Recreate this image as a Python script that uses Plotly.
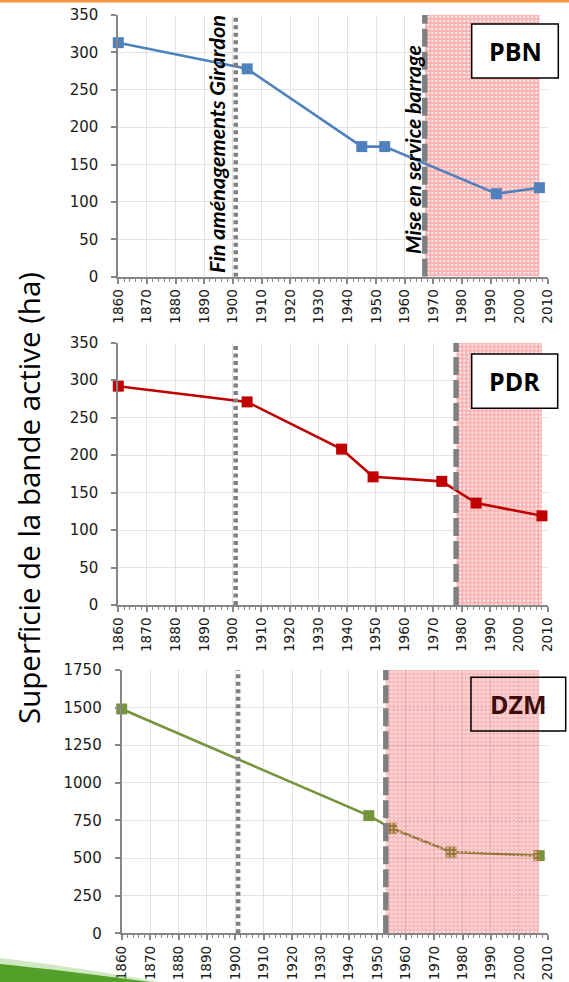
import plotly.graph_objects as go

W, H = 569, 982

# ---------------- data ----------------
years_pbn = [1860, 1905, 1945, 1953, 1992, 2007]
area_pbn = [313, 278, 174, 174, 111, 119]

years_pdr = [1860, 1905, 1938, 1949, 1973, 1985, 2008]
area_pdr = [292, 271, 208, 171, 165, 136, 119]

years_dzm = [1860, 1947, 1955, 1976, 2007]
area_dzm = [1491, 782, 698, 540, 516]

site_names = ["PBN", "PDR", "DZM"]
girardon_end = 1901
barrage_years = [1967, 1978, 1953]
y_max = [350, 350, 1750]
y_dtick = [50, 50, 250]
x_ticks = list(range(1860, 2011, 10))

colors = ["#4F81BD", "#C00000", "#77933C"]


def px_x(x):
    return x / W


def px_y(y):
    return 1 - y / H


# panel geometry (pixels)
x_dom_px = [(118.3, 548.0), (118.3, 547.7), (121.7, 547.7)]
y_dom_px = [(276.7, 15.0), (605.0, 342.7), (933.3, 670.0)]
box_px = [(471.7, 24, 558.3, 78), (471.7, 354, 557.7, 408.3), (471.0, 677.3, 565.7, 731)]

series = [(years_pbn, area_pbn), (years_pdr, area_pdr), (years_dzm, area_dzm)]

fig = go.Figure()
shapes = []
annotations = []

axis_col = "#868686"
grid_col = "#E3E3E3"
font_xticks = dict(family="DejaVu Sans", size=13.6, color="#1a1a1a")
font_yticks = dict(family="DejaVu Sans", size=15, color="#1a1a1a")

for i in range(3):
    xs, ys = series[i]
    xa = "x" if i == 0 else f"x{i+1}"
    ya = "y" if i == 0 else f"y{i+1}"
    start = barrage_years[i]
    end = xs[-1]
    ymax = y_max[i]
    if i == 2:
        shade = dict(shape=".", bgcolor="rgba(238,30,30,0.30)", fgcolor="white",
                     fgopacity=0.6, size=4, solidity=0.25)
    else:
        shade = dict(shape=".", bgcolor="#F9B2B2", fgcolor="white",
                     fgopacity=0.8, size=4, solidity=0.25)
    shade_trace = go.Scatter(
        x=[start, end, end, start, start], y=[0, 0, ymax, ymax, 0],
        fill="toself", mode="none", fillpattern=shade, fillcolor="rgba(0,0,0,0)",
        xaxis=xa, yaxis=ya, showlegend=False, hoverinfo="skip")
    line_trace = go.Scatter(
        x=xs, y=ys, mode="lines+markers", cliponaxis=False,
        line=dict(color=colors[i], width=2.6),
        marker=dict(symbol="square", size=11, color=colors[i]),
        xaxis=xa, yaxis=ya, showlegend=False)
    if i == 2:
        fig.add_trace(line_trace)
        fig.add_trace(shade_trace)
    else:
        fig.add_trace(shade_trace)
        fig.add_trace(line_trace)

    # vertical event lines
    shapes.append(dict(type="line", xref=xa, yref=ya, x0=girardon_end, x1=girardon_end,
                       y0=0, y1=ymax, layer="above",
                       line=dict(color="#808080", width=4.5, dash="4px,3.5px")))
    shapes.append(dict(type="line", xref=xa, yref=ya, x0=start, x1=start,
                       y0=0, y1=ymax, layer="above",
                       line=dict(color="#808080", width=5.5, dash="18px,5px")))

    # site label box
    bx0, by0, bx1, by1 = box_px[i]
    if i == 2:
        shapes.append(dict(type="rect", xref="paper", yref="paper",
                           x0=px_x(bx0), x1=px_x(bx1), y0=px_y(by1), y1=px_y(by0),
                           fillcolor="white", line=dict(width=0), layer="between"))
        shapes.append(dict(type="rect", xref="paper", yref="paper",
                           x0=px_x(bx0), x1=px_x(bx1), y0=px_y(by1), y1=px_y(by0),
                           fillcolor="rgba(0,0,0,0)", line=dict(color="black", width=1.5),
                           layer="above"))
    else:
        shapes.append(dict(type="rect", xref="paper", yref="paper",
                           x0=px_x(bx0), x1=px_x(bx1), y0=px_y(by1), y1=px_y(by0),
                           fillcolor="white", line=dict(color="black", width=1.5),
                           layer="above"))
    annotations.append(dict(text=site_names[i], xref="paper", yref="paper",
                            x=px_x((bx0 + bx1) / 2), y=px_y((by0 + by1) / 2),
                            xanchor="center", yanchor="middle", showarrow=False,
                            font=dict(family="Open Sans", size=25,
                                      color="#3a0c0c" if i == 2 else "black",
                                      weight="bold")))

    xd = x_dom_px[i]
    yd = y_dom_px[i]
    xkey = "xaxis" if i == 0 else f"xaxis{i+1}"
    ykey = "yaxis" if i == 0 else f"yaxis{i+1}"
    fig.update_layout({
        xkey: dict(domain=[px_x(xd[0]), px_x(xd[1])], anchor=ya, automargin=False,
                   range=[1860, 2010], tickvals=x_ticks, ticktext=[str(t) for t in x_ticks],
                   tickangle=-90, ticks="outside", ticklen=5, tickwidth=1.5,
                   tickcolor=axis_col, showline=True, linecolor=axis_col, linewidth=2,
                   showgrid=True, gridcolor=grid_col, gridwidth=1, zeroline=False,
                   tickfont=font_xticks, ticklabelstandoff=0,
                   minor=dict(dtick=2, tick0=1860, ticks="outside", ticklen=3,
                              tickcolor=axis_col, tickwidth=1, showgrid=False)),
        ykey: dict(domain=[px_y(yd[0]), px_y(yd[1])], anchor=xa, automargin=False,
                   range=[0, ymax], dtick=y_dtick[i], ticks="outside", ticklen=5,
                   tickwidth=1.5, tickcolor=axis_col, showline=True, linecolor=axis_col,
                   linewidth=2, showgrid=True, gridcolor=grid_col, gridwidth=1,
                   zeroline=False, tickfont=font_yticks, ticklabelstandoff=10),
    })

# rotated event labels (top panel)
annotations.append(dict(text="<b><i>Fin aménagements Girardon</i></b>", xref="paper", yref="paper",
                        x=px_x(217), y=px_y(144), textangle=-90, showarrow=False,
                        xanchor="center", yanchor="middle",
                        font=dict(family="Lato", size=21.7, color="black")))
annotations.append(dict(text="<b><i>Mise en service barrage</i></b>", xref="paper", yref="paper",
                        x=px_x(413), y=px_y(150), textangle=-90, showarrow=False,
                        xanchor="center", yanchor="middle",
                        font=dict(family="Lato", size=21.2, color="black")))

# y axis title
annotations.append(dict(text="Superficie de la bande active (ha)", xref="paper", yref="paper",
                        x=px_x(29), y=px_y(498), textangle=-90, showarrow=False,
                        xanchor="center", yanchor="middle",
                        font=dict(family="Open Sans", size=29.5, color="black")))

# decorative orange top band and green swoosh
shapes.append(dict(type="rect", xref="paper", yref="paper", x0=0, x1=1,
                   y0=px_y(2.5), y1=1, fillcolor="#F79646", line=dict(width=0), layer="above"))
shapes.append(dict(type="path", xref="paper", yref="paper",
                   path=f"M 0,{px_y(958)} Q {px_x(70)},{px_y(966)} {px_x(160)},{px_y(982)} L 0,{px_y(982)} Z",
                   fillcolor="rgba(120,190,80,0.35)", line=dict(width=0), layer="above"))
shapes.append(dict(type="path", xref="paper", yref="paper",
                   path=f"M 0,{px_y(964)} Q {px_x(60)},{px_y(970)} {px_x(150)},{px_y(982)} L 0,{px_y(982)} Z",
                   fillcolor="#52A02A", line=dict(width=0), layer="above"))

fig.update_layout(
    width=W, height=H,
    margin=dict(l=0, r=0, t=0, b=0, pad=0, autoexpand=False),
    paper_bgcolor="white", plot_bgcolor="white",
    shapes=shapes, annotations=annotations,
    showlegend=False,
)

fig.write_html("out.html", config={"displayModeBar": False},
               post_script="document.body.style.margin='0px';document.body.style.padding='0px';document.body.style.overflow='hidden';")
